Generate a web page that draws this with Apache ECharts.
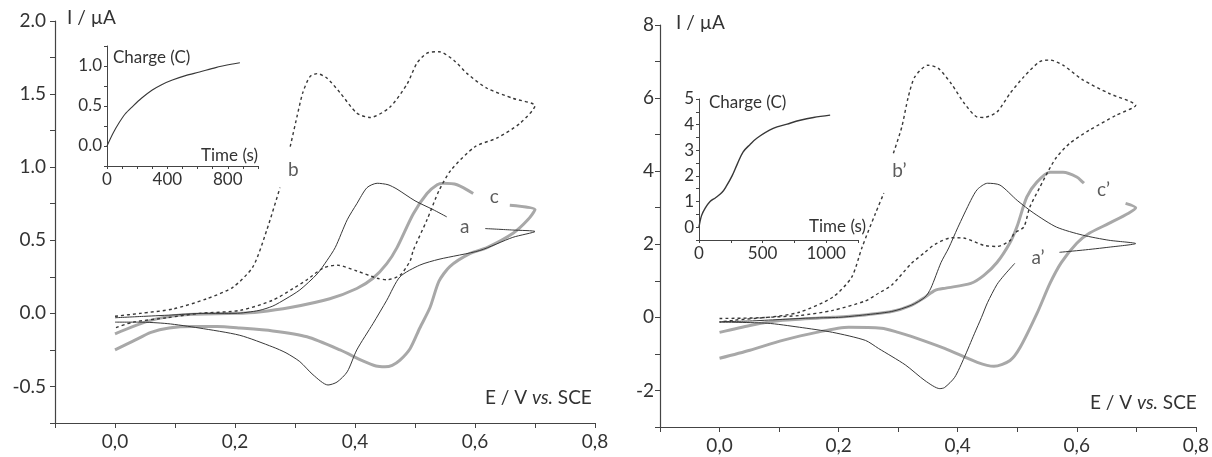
<!DOCTYPE html>
<html>
<head>
<meta charset="utf-8">
<script src="https://cdn.jsdelivr.net/npm/echarts@6/dist/echarts.min.js"></script>
<style>
html,body{margin:0;padding:0;background:#fff;}
#chart{width:1212px;height:457px;}
</style>
</head>
<body>
<div id="chart"></div>
<script>
// ---------- DATA (E / V vs SCE, I / µA); null = break in the trace ----------
const curveA = [[0,-0.03],[0.05,-0.02],[0.1,-0.01],[0.15,0.0],[0.2,0.0],[0.24,0.02],[0.263,0.05],[0.285,0.1],[0.308,0.16],[0.337,0.27],[0.353,0.36],[0.367,0.45],[0.387,0.64],[0.403,0.75],[0.42,0.86],[0.437,0.89],[0.455,0.88],[0.47,0.85],[0.5,0.77],[0.53,0.71],[0.553,0.66],null,[0.617,0.58],[0.663,0.57],[0.70,0.56],[0.663,0.52],[0.608,0.43],[0.54,0.37],[0.508,0.33],[0.475,0.25],[0.453,0.09],[0.43,-0.07],[0.403,-0.25],[0.387,-0.40],[0.37,-0.47],[0.355,-0.49],[0.33,-0.42],[0.308,-0.33],[0.285,-0.27],[0.263,-0.23],[0.208,-0.15],[0.14,-0.10],[0.087,-0.07],[0.04,-0.06],[0,-0.06]];
const curveB = [[0,-0.02],[0.042,0.0],[0.097,0.03],[0.153,0.10],[0.197,0.18],[0.23,0.32],[0.253,0.57],[0.275,0.86],null,[0.292,1.14],[0.303,1.34],[0.313,1.51],[0.325,1.62],[0.337,1.64],[0.353,1.61],[0.375,1.51],[0.403,1.37],[0.425,1.34],[0.458,1.41],[0.487,1.57],[0.503,1.71],[0.52,1.78],[0.54,1.79],[0.565,1.73],[0.587,1.64],[0.62,1.54],[0.664,1.47],[0.70,1.42],[0.675,1.3],[0.637,1.2],[0.60,1.14],[0.56,0.98],[0.54,0.84],[0.52,0.64],[0.497,0.43],[0.492,0.36],[0.475,0.26],[0.453,0.23],[0.437,0.24],[0.403,0.29],[0.37,0.33],[0.347,0.31],[0.32,0.23],[0.297,0.17],[0.263,0.09],[0.208,0.02],[0.14,0.0],[0.087,-0.03],[0.03,-0.06],[0,-0.10]];
const curveC = [[0,-0.14],[0.058,-0.05],[0.113,-0.01],[0.2,0.0],[0.24,0.01],[0.292,0.04],[0.358,0.10],[0.403,0.17],[0.43,0.24],[0.453,0.34],[0.47,0.45],[0.497,0.68],[0.52,0.82],[0.537,0.88],[0.547,0.89],[0.57,0.88],[0.597,0.82],null,[0.658,0.74],[0.70,0.71],[0.688,0.64],[0.664,0.55],[0.62,0.45],[0.592,0.41],[0.558,0.32],[0.54,0.22],[0.525,0.04],[0.508,-0.10],[0.492,-0.24],[0.475,-0.32],[0.462,-0.355],[0.45,-0.365],[0.435,-0.36],[0.413,-0.325],[0.375,-0.25],[0.32,-0.16],[0.263,-0.12],[0.208,-0.10],[0.17,-0.09],[0.13,-0.09],[0.09,-0.10],[0.06,-0.13],[0.03,-0.19],[0,-0.25]];

const curveA2 = [[0,-0.12],[0.05,-0.1],[0.1,-0.06],[0.15,-0.02],[0.2,0.0],[0.234,0.05],[0.289,0.16],[0.322,0.33],[0.345,0.55],[0.355,0.8],[0.372,1.5],[0.385,1.9],[0.40,2.45],[0.422,3.2],[0.433,3.5],[0.45,3.67],[0.471,3.62],[0.50,3.2],[0.528,2.85],[0.566,2.47],[0.61,2.25],[0.654,2.11],[0.699,2.02],[0.654,1.92],[0.61,1.84],[0.571,1.78],null,[0.496,1.48],[0.478,1.15],[0.466,0.9],[0.45,0.4],[0.44,0.0],[0.428,-0.45],[0.411,-1.1],[0.395,-1.64],[0.378,-1.92],[0.37,-1.95],[0.345,-1.73],[0.312,-1.3],[0.267,-0.85],[0.245,-0.63],[0.19,-0.41],[0.134,-0.27],[0.08,-0.16],[0,-0.13]];
const curveB2 = [[0,-0.03],[0.08,0.0],[0.134,0.14],[0.19,0.55],[0.222,1.1],[0.239,1.9],[0.262,2.85],[0.276,3.4],null,[0.292,4.49],[0.306,5.2],[0.317,6.03],[0.328,6.58],[0.35,6.9],[0.367,6.82],[0.389,6.4],[0.411,5.86],[0.433,5.48],[0.444,5.47],[0.466,5.62],[0.488,6.13],[0.511,6.58],[0.538,7.0],[0.555,7.04],[0.577,6.9],[0.61,6.5],[0.654,6.13],[0.699,5.8],[0.666,5.53],[0.621,5.12],[0.588,4.76],[0.566,4.38],[0.553,4.03],[0.538,3.56],[0.521,3.01],[0.511,2.47],[0.495,2.3],[0.488,2.1],[0.466,1.94],[0.444,1.97],[0.41,2.17],[0.39,2.18],[0.362,2.0],[0.345,1.78],[0.322,1.47],[0.289,0.88],[0.267,0.66],[0.245,0.45],[0.19,0.19],[0.134,0.05],[0.08,0.0],[0.023,-0.08],[0,-0.13]];
const curveC2 = [[0,-0.41],[0.051,-0.22],[0.106,-0.08],[0.19,0.0],[0.234,0.05],[0.289,0.16],[0.322,0.33],[0.345,0.55],[0.362,0.74],[0.38,0.8],[0.422,0.93],[0.444,1.15],[0.466,1.5],[0.488,2.05],[0.50,2.5],[0.516,3.29],[0.533,3.7],[0.555,3.97],[0.577,3.97],[0.60,3.84],[0.612,3.67],null,[0.682,3.12],[0.699,3.0],[0.687,2.85],[0.654,2.57],[0.621,2.3],[0.60,2.03],[0.574,1.5],[0.555,0.93],[0.533,0.1],[0.505,-0.82],[0.488,-1.18],[0.461,-1.34],[0.433,-1.23],[0.378,-0.85],[0.322,-0.52],[0.30,-0.41],[0.272,-0.3],[0.217,-0.27],[0.163,-0.41],[0.106,-0.63],[0.051,-0.9],[0,-1.12]];

// Insets: charge vs time
const inset1Time = [0,40,80,120,167,230,300,365,433,520,613,720,833,880];
const inset1Charge = [0,0.16,0.29,0.40,0.49,0.60,0.70,0.77,0.825,0.88,0.925,0.98,1.025,1.04];
const inset2Time = [0,20,50,87,130,180,215,260,300,346,400,457,583,693,795,900,1031];
const inset2Charge = [0,0.45,0.75,1.0,1.15,1.35,1.6,2.0,2.45,2.93,3.22,3.48,3.85,4.02,4.17,4.28,4.37];

// Curve labels
const leftLabels = [{name:'a', value:[0.583,0.59]},{name:'b', value:[0.297,0.98]},{name:'c', value:[0.632,0.80]}];
const rightLabels = [{name:'a’', value:[0.535,1.62]},{name:'b’', value:[0.302,4.0]},{name:'c’', value:[0.645,3.5]}];

// ---------- CHART ----------
const FONT = 'Lato';
const TXT = '#333';
const AX = '#444';
const dark = '#383838', grey = '#a8a8a8';
const toData = arr => arr.map(p => p ? p : ['-','-']);
const pairs = (xs, ys) => xs.map((x,i) => [x, ys[i]]);

function mainX(gi){
  return {gridIndex:gi, type:'value', min:-0.1, max:0.8, interval:0.1,
    splitLine:{show:false},
    axisLine:{onZero:false, lineStyle:{color:AX, width:1.2}},
    axisTick:{length:5, lineStyle:{color:AX}},
    axisLabel:{fontFamily:FONT, fontSize:19, color:TXT, margin:9,
      formatter:v=>{const k=Math.round(v*10); return (k>=0 && k%2===0)?(k/10).toFixed(1).replace('.',','):'';}}};
}
const chart = echarts.init(document.getElementById('chart'), null, {renderer:'canvas'});
const richE = {n:{fontFamily:FONT, fontSize:19, fill:TXT}, i:{fontFamily:FONT, fontSize:19, fontStyle:'italic', fill:TXT}};
const option = {
  animation:false,
  backgroundColor:'#fff',
  grid:[
    {left:55, top:21, width:540, height:402},
    {left:107, top:46, width:151, height:120},
    {left:660, top:25, width:541, height:402},
    {left:699, top:99, width:159, height:141}
  ],
  xAxis:[
    mainX(0),
    {gridIndex:1, type:'value', min:0, max:1000, interval:100, splitLine:{show:false},
      axisLine:{onZero:false, lineStyle:{color:AX}}, axisTick:{length:3, lineStyle:{color:AX}},
      axisLabel:{fontFamily:FONT, fontSize:17, color:TXT, margin:5, formatter:v=>(v%400===0 && v<1000)?String(v):''}},
    mainX(2),
    {gridIndex:3, type:'value', min:0, max:1250, interval:250, splitLine:{show:false},
      axisLine:{onZero:false, lineStyle:{color:AX}}, axisTick:{length:3, lineStyle:{color:AX}},
      axisLabel:{fontFamily:FONT, fontSize:17, color:TXT, margin:5, formatter:v=>(v%500===0)?String(v):''}}
  ],
  yAxis:[
    {gridIndex:0, type:'value', min:-0.75, max:2.0, interval:0.25, splitLine:{show:false},
      axisLine:{show:true, onZero:false, lineStyle:{color:AX, width:1.2}}, axisTick:{show:true, length:5, lineStyle:{color:AX}},
      axisLabel:{fontFamily:FONT, fontSize:19, color:TXT, margin:9,
        formatter:v=>{const k=Math.round(v*4); return (k%2===0)?(k/4).toFixed(1):'';}}},
    {gridIndex:1, type:'value', min:-0.25, max:1.25, interval:0.25, splitLine:{show:false},
      axisLine:{show:true, onZero:false, lineStyle:{color:AX}}, axisTick:{show:true, length:3, lineStyle:{color:AX}},
      axisLabel:{fontFamily:FONT, fontSize:17, color:TXT, margin:5,
        formatter:v=>{const k=Math.round(v*4); return (k%2===0 && k>=0 && k<=4)?(k/4).toFixed(1):'';}}},
    {gridIndex:2, type:'value', min:-3, max:8, interval:1, splitLine:{show:false},
      axisLine:{show:true, onZero:false, lineStyle:{color:AX, width:1.2}}, axisTick:{show:true, length:5, lineStyle:{color:AX}},
      axisLabel:{fontFamily:FONT, fontSize:19, color:TXT, margin:6,
        formatter:v=>{const k=Math.round(v); return (Math.abs(k%2)===0)?String(k):'';}}},
    {gridIndex:3, type:'value', min:-0.5, max:5, interval:0.5, splitLine:{show:false},
      axisLine:{show:true, onZero:false, lineStyle:{color:AX}}, axisTick:{show:true, length:3, lineStyle:{color:AX}},
      axisLabel:{fontFamily:FONT, fontSize:17, color:TXT, margin:5,
        formatter:v=>{const k=Math.round(v); return (Math.abs(v-k)<1e-6 && k>=0)?String(k):'';}}}
  ],
  graphic:[
    {type:'text', left:67, top:8, style:{text:'I / µA', fontFamily:FONT, fontSize:19, fill:TXT}},
    {type:'text', left:485, top:388, style:{rich:richE, text:'{n|E / V }{i|vs.}{n| SCE}'}},
    {type:'text', left:113, top:49, style:{text:'Charge (C)', fontFamily:FONT, fontSize:17, fill:TXT}},
    {type:'text', left:201, top:147, style:{text:'Time (s)', fontFamily:FONT, fontSize:17, fill:TXT}},
    {type:'text', left:676, top:13, style:{text:'I / µA', fontFamily:FONT, fontSize:19, fill:TXT}},
    {type:'text', left:1090, top:393, style:{rich:richE, text:'{n|E / V }{i|vs.}{n| SCE}'}},
    {type:'text', left:709, top:94, style:{text:'Charge (C)', fontFamily:FONT, fontSize:17, fill:TXT}},
    {type:'text', left:809, top:218, style:{text:'Time (s)', fontFamily:FONT, fontSize:17, fill:TXT}}
  ],
  series:[
    {type:'line', xAxisIndex:0, yAxisIndex:0, data:toData(curveC), showSymbol:false, symbol:'none', smooth:0.25, lineStyle:{color:grey, width:3}},
    {type:'line', xAxisIndex:0, yAxisIndex:0, data:toData(curveA), showSymbol:false, symbol:'none', smooth:0.25, lineStyle:{color:dark, width:1}},
    {type:'line', xAxisIndex:0, yAxisIndex:0, data:toData(curveB), showSymbol:false, symbol:'none', smooth:0.25, lineStyle:{color:dark, width:1.4, type:[3,3]}},
    {type:'line', xAxisIndex:1, yAxisIndex:1, data:pairs(inset1Time, inset1Charge), showSymbol:false, symbol:'none', smooth:0.3, lineStyle:{color:dark, width:1.1}},
    {type:'line', xAxisIndex:2, yAxisIndex:2, data:toData(curveC2), showSymbol:false, symbol:'none', smooth:0.25, lineStyle:{color:grey, width:3}},
    {type:'line', xAxisIndex:2, yAxisIndex:2, data:toData(curveA2), showSymbol:false, symbol:'none', smooth:0.25, lineStyle:{color:dark, width:1}},
    {type:'line', xAxisIndex:2, yAxisIndex:2, data:toData(curveB2), showSymbol:false, symbol:'none', smooth:0.25, lineStyle:{color:dark, width:1.4, type:[3,3]}},
    {type:'line', xAxisIndex:3, yAxisIndex:3, data:pairs(inset2Time, inset2Charge), showSymbol:false, symbol:'none', smooth:0.35, lineStyle:{color:dark, width:1.4}},
    {type:'scatter', xAxisIndex:0, yAxisIndex:0, data:leftLabels, symbolSize:0,
      label:{show:true, position:'inside', formatter:'{b}', fontFamily:FONT, fontSize:19, color:TXT}},
    {type:'scatter', xAxisIndex:2, yAxisIndex:2, data:rightLabels, symbolSize:0,
      label:{show:true, position:'inside', formatter:'{b}', fontFamily:FONT, fontSize:19, color:TXT}}
  ]
};
chart.setOption(option);
</script>
</body>
</html>
